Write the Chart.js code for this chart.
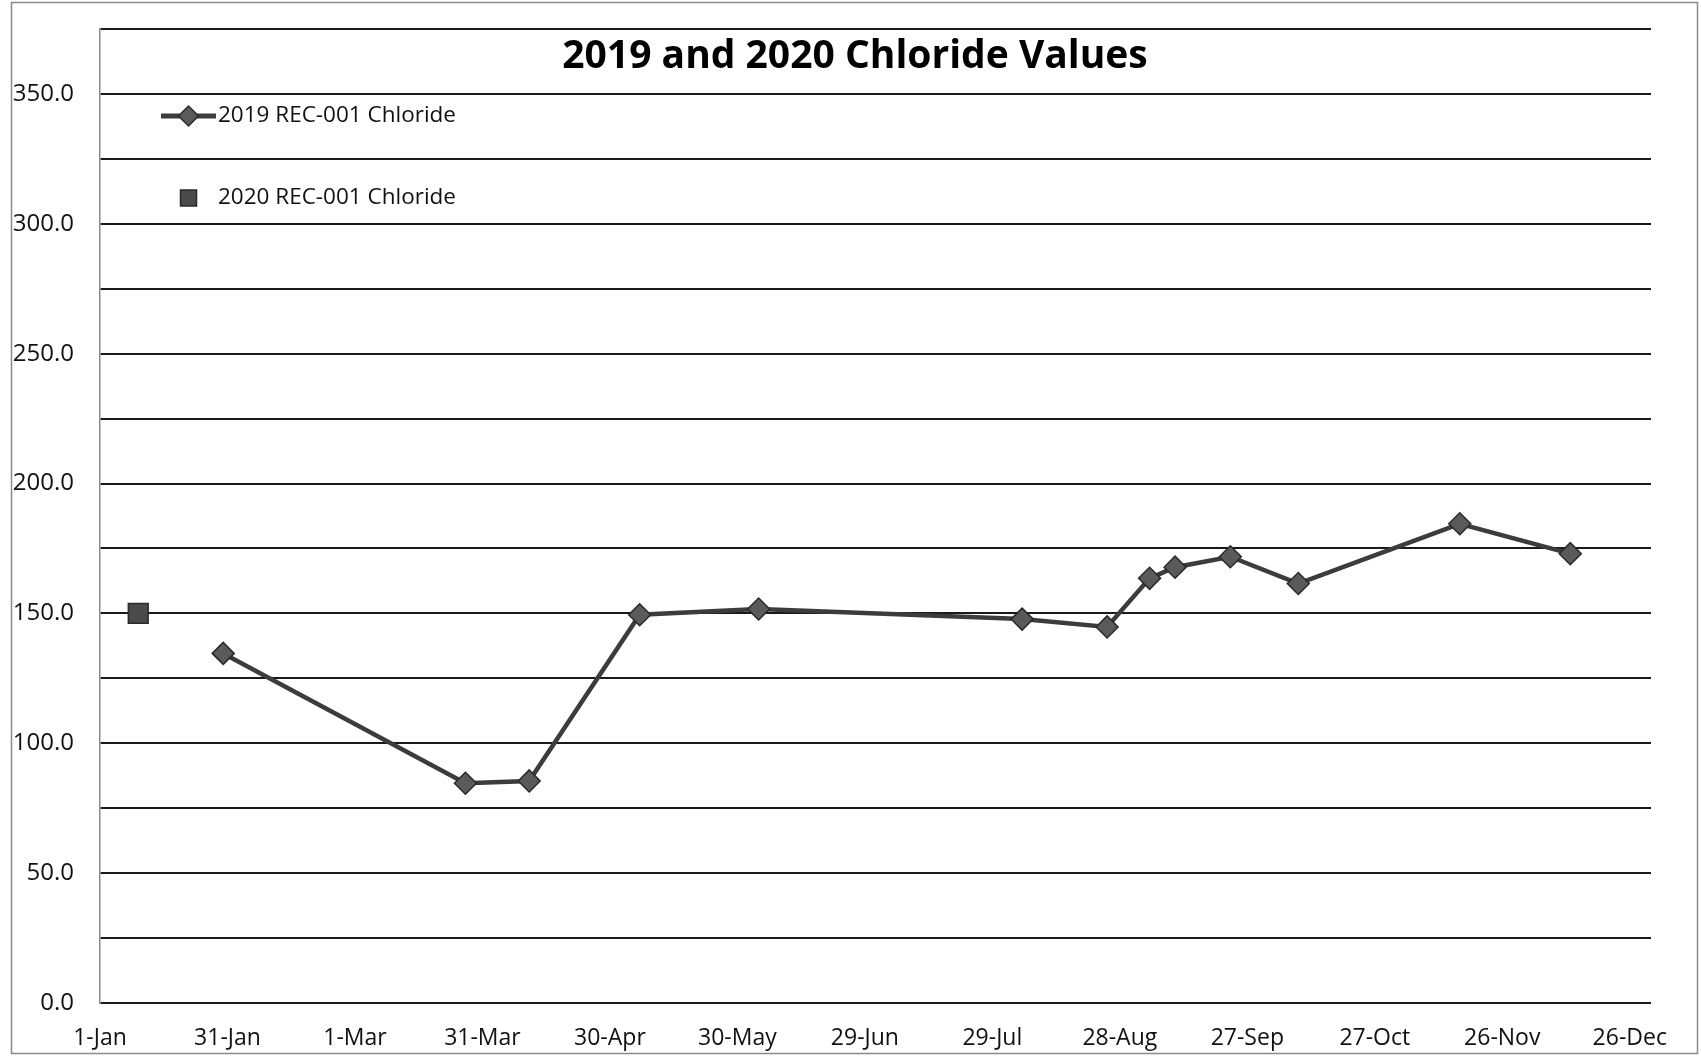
<!DOCTYPE html>
<html><head><meta charset="utf-8">
<script src="https://cdn.jsdelivr.net/npm/chart.js@4.4.1/dist/chart.umd.min.js"></script>
<style>html,body{margin:0;padding:0;background:#fff;} #wrap{position:absolute;left:0;top:0;width:1701px;height:1057px;}</style>
</head><body><div id="wrap"><canvas id="c" width="1701" height="1057"></canvas></div>
<script>
// Axis tick labels (every 30 days from 1-Jan)
const tickLabels = ['1-Jan','31-Jan','1-Mar','31-Mar','30-Apr','30-May','29-Jun','29-Jul','28-Aug','27-Sep','27-Oct','26-Nov','26-Dec'];
// Sample dates as day offset from 1-Jan
const days2019 = [29, 86, 101, 127, 155, 217, 237, 247, 253, 266, 282, 320, 346];
const chloride2019 = [134.6, 84.6, 85.5, 149.5, 151.7, 147.8, 144.8, 163.5, 167.8, 171.8, 161.5, 184.5, 173.0];
const days2020 = [9];
const chloride2020 = [150.0];
const seriesNames = ['2019 REC-001 Chloride', '2020 REC-001 Chloride'];
const titleText = '2019 and 2020 Chloride Values';

const FONT = 'Open Sans';
const LINE_COLOR = '#3c3c3c';

const deco = {
  id: 'deco',
  beforeDraw(chart) {
    const ctx = chart.ctx;
    ctx.save();
    ctx.fillStyle = '#fff';
    ctx.fillRect(0, 0, chart.width, chart.height);
    ctx.restore();
  },
  afterDraw(chart) {
    const ctx = chart.ctx;
    ctx.save();
    // outer border
    ctx.strokeStyle = '#8a8a8a';
    ctx.lineWidth = 1.5;
    ctx.strokeRect(11.5, 2.5, 1686, 1051);
    // title
    ctx.fillStyle = '#000';
    ctx.font = 'bold 39px "' + FONT + '"';
    ctx.textAlign = 'center';
    ctx.textBaseline = 'middle';
    ctx.fillText(titleText, 855, 57);
    // legend
    ctx.font = '22.5px "' + FONT + '"';
    ctx.textAlign = 'left';
    const y1 = 116, y2 = 198, cx = 188.5;
    ctx.strokeStyle = LINE_COLOR;
    ctx.lineWidth = 5;
    ctx.beginPath(); ctx.moveTo(161, y1); ctx.lineTo(216, y1); ctx.stroke();
    ctx.fillStyle = '#5a5a5a';
    ctx.strokeStyle = '#2a2a2a';
    ctx.lineWidth = 1.5;
    ctx.beginPath();
    ctx.moveTo(cx, y1 - 10); ctx.lineTo(cx + 10, y1); ctx.lineTo(cx, y1 + 10); ctx.lineTo(cx - 10, y1); ctx.closePath();
    ctx.fill(); ctx.stroke();
    ctx.fillStyle = '#4a4a4a';
    ctx.fillRect(cx - 8, y2 - 8, 16, 16);
    ctx.strokeRect(cx - 8, y2 - 8, 16, 16);
    ctx.fillStyle = '#111';
    ctx.fillText(seriesNames[0], 218, y1);
    ctx.fillText(seriesNames[1], 218, y2);
    ctx.restore();
  }
};

new Chart(document.getElementById('c'), {
  type: 'line',
  data: {
    datasets: [
      {
        label: seriesNames[0],
        data: days2019.map((d, i) => ({x: d, y: chloride2019[i]})),
        borderColor: LINE_COLOR,
        borderWidth: 4.5,
        pointStyle: 'rectRot',
        pointRadius: 11,
        pointBackgroundColor: '#5a5a5a',
        pointBorderColor: '#2a2a2a',
        pointBorderWidth: 1.5,
        tension: 0
      },
      {
        label: seriesNames[1],
        data: days2020.map((d, i) => ({x: d, y: chloride2020[i]})),
        showLine: false,
        pointStyle: 'rect',
        pointRadius: 14,
        pointBackgroundColor: '#4a4a4a',
        pointBorderColor: '#2a2a2a',
        pointBorderWidth: 1.5
      }
    ]
  },
  options: {
    responsive: false,
    animation: false,
    devicePixelRatio: 1,
    layout: {padding: {top: 29, right: 50, left: 0, bottom: 0}},
    plugins: {legend: {display: false}, title: {display: false}, tooltip: {enabled: false}},
    scales: {
      x: {
        type: 'linear', min: 0, max: 365,
        afterFit(s) { s.height = 54; s.paddingLeft = 0; s.paddingRight = 0; },
        ticks: {
          stepSize: 30, includeBounds: false, autoSkip: false, maxRotation: 0, minRotation: 0,
          padding: 22, color: '#111', font: {family: FONT, size: 23},
          callback: (v) => { const i = Math.round(v / 30); return (v % 30 === 0 && tickLabels[i]) ? tickLabels[i] : ''; }
        },
        grid: {display: false, drawTicks: false},
        border: {display: false}
      },
      y: {
        min: 0, max: 375,
        afterFit(s) { s.width = 100; s.paddingTop = 0; s.paddingBottom = 0; },
        ticks: {
          stepSize: 25, padding: 26, autoSkip: false, color: '#111', font: {family: FONT, size: 24},
          callback: (v) => (v % 50 === 0) ? v.toFixed(1) : ''
        },
        grid: {color: '#1a1a1a', lineWidth: 2, drawTicks: false},
        border: {display: true, color: '#8a8a8a', width: 1.5}
      }
    }
  },
  plugins: [deco]
});
</script>
</body></html>
